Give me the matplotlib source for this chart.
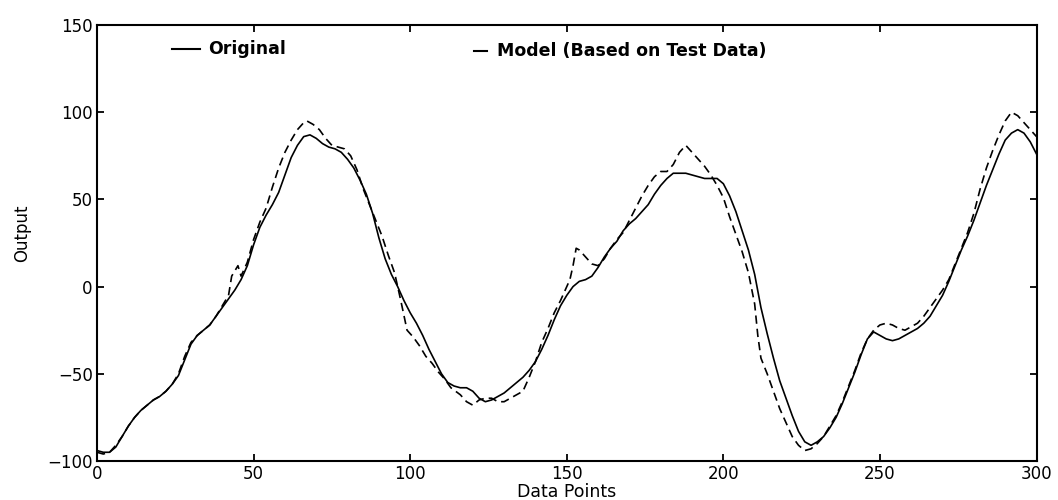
import matplotlib
matplotlib.use("Agg")
import matplotlib.pyplot as plt

# Original (solid) curve
orig_x = [0, 2, 4, 6, 8, 10, 12, 14, 16, 18, 20, 22, 24, 26, 28, 30, 32, 34, 36, 38,
          40, 42, 44, 46, 48, 50, 52, 54, 56, 58, 60, 62, 64, 66, 68, 70, 72, 74, 76, 78,
          80, 82, 84, 86, 88, 90, 92, 94, 96, 98, 100, 102, 104, 106, 108, 110, 112, 114,
          116, 118, 120, 122, 124, 126, 128, 130, 132, 134, 136, 138, 140, 142, 144, 146,
          148, 150, 152, 154, 156, 158, 160, 162, 164, 166, 168, 170, 172, 174, 176, 178,
          180, 182, 184, 186, 188, 190, 192, 194, 196, 198, 200, 202, 204, 206, 208, 210,
          212, 214, 216, 218, 220, 222, 224, 226, 228, 230, 232, 234, 236, 238, 240, 242,
          244, 246, 248, 250, 252, 254, 256, 258, 260, 262, 264, 266, 268, 270, 272, 274,
          276, 278, 280, 282, 284, 286, 288, 290, 292, 294, 296, 298, 300]
orig_y = [-94, -95, -95, -92, -86, -80, -75, -71, -68, -65, -63, -60, -56, -51, -42, -33, -28, -25, -22, -17,
          -12, -7, -2, 4, 12, 24, 34, 41, 47, 54, 64, 74, 81, 86, 87, 85, 82, 80, 79, 77,
          73, 68, 61, 53, 42, 28, 16, 7, 0, -8, -15, -21, -28, -36, -43, -50, -55, -57,
          -58, -58, -60, -64, -66, -65, -63, -61, -58, -55, -52, -48, -43, -36, -28, -19,
          -11, -5, 0, 3, 4, 6, 11, 17, 22, 26, 32, 36, 39, 43, 47, 53,
          58, 62, 65, 65, 65, 64, 63, 62, 62, 62, 59, 52, 43, 32, 21, 7,
          -12, -27, -41, -54, -64, -74, -83, -89, -91, -89, -86, -81, -75, -67, -58, -49,
          -39, -30, -26, -28, -30, -31, -30, -28, -26, -24, -21, -17, -11, -5, 3, 12,
          21, 29, 38, 48, 58, 67, 76, 84, 88, 90, 88, 83, 76]

# Model (dashed) curve
model_x = [0, 2, 4, 6, 8, 10, 12, 14, 16, 18, 20, 22, 24, 26, 28, 30, 32, 34, 36, 38,
           40, 42, 43, 45, 46, 48, 50, 52, 54, 56, 58, 60, 62, 64, 66, 67, 69, 71, 73, 75,
           77, 79, 81, 83, 85, 87, 89, 91, 93, 95, 97, 99, 101, 103, 105, 107, 109, 111,
           113, 116, 118, 120, 122, 124, 126, 128, 130, 132, 134, 136, 138, 140, 142, 144,
           146, 148, 150, 151, 152, 153, 154, 156, 158, 160, 162, 164, 166, 168, 170, 172,
           174, 176, 178, 180, 182, 184, 186, 188, 190, 192, 194, 196, 198, 200, 202, 204,
           206, 208, 210, 211, 212, 214, 216, 218, 220, 222, 224, 226, 228, 230, 232, 234,
           236, 238, 240, 242, 244, 246, 248, 250, 252, 254, 256, 258, 260, 262, 264, 266,
           268, 270, 272, 274, 276, 278, 280, 282, 284, 286, 288, 290, 292, 294, 296, 298, 300]
model_y = [-95, -96, -95, -91, -86, -80, -75, -71, -68, -65, -63, -60, -56, -50, -40, -32, -28, -25, -22, -17,
           -11, -5, 6, 12, 6, 14, 27, 37, 45, 57, 68, 77, 84, 90, 94, 95, 93, 90, 85, 81,
           80, 79, 75, 67, 56, 47, 38, 29, 18, 8, -8, -25, -29, -34, -40, -44, -49, -53,
           -58, -62, -66, -68, -65, -64, -64, -66, -66, -64, -62, -60, -52, -43, -32, -24,
           -15, -8, 0, 4, 12, 22, 21, 17, 13, 12, 16, 22, 27, 31, 38, 45,
           52, 58, 63, 66, 66, 70, 77, 81, 77, 73, 69, 64, 58, 51, 40, 30,
           20, 8, -10, -28, -41, -50, -60, -70, -78, -86, -91, -94, -93, -90, -86, -80,
           -74, -66, -57, -48, -38, -30, -25, -22, -21, -22, -24, -25, -23, -21, -17, -12,
           -7, -2, 4, 13, 22, 31, 42, 56, 68, 78, 87, 95, 100, 98, 94, 90, 86]

x_ticks = [0, 50, 100, 150, 200, 250, 300]
y_ticks = [-100, -50, 0, 50, 100, 150]

fig = plt.figure(figsize=(10.58, 5.0), dpi=100)
fig.patch.set_facecolor('white')
ax = fig.add_axes([0.0917, 0.078, 0.888, 0.872])

ax.plot(orig_x, orig_y, color='black', linewidth=1.2)
ax.plot(model_x, model_y, color='black', linewidth=1.2, linestyle=(0, (5, 3)))

ax.set_xlim(0, 300)
ax.set_ylim(-100, 150)
ax.set_xticks(x_ticks)
ax.set_yticks(y_ticks)

for spine in ax.spines.values():
    spine.set_linewidth(1.5)

ax.tick_params(direction='in', length=5, width=1.3, top=True, right=True,
               labelsize=12, pad=3)

ax.set_xlabel('Data Points', fontsize=12.5, labelpad=0)
fig.text(22 / 1058, 1 - 233 / 500, 'Output', rotation=90, ha='center', va='center',
         fontsize=12, family=['Liberation Sans Narrow', 'DejaVu Sans'])

# hand-drawn style legend inside the axes
ax.plot([24, 33], [136, 136], color='black', linewidth=1.5)
ax.text(35.5, 136, 'Original', fontsize=12.5, fontweight='bold', va='center', ha='left')
ax.plot([120.5, 124.4], [135, 135], color='black', linewidth=1.5)
ax.text(127.6, 135, 'Model (Based on Test Data)', fontsize=12.5, fontweight='bold',
        va='center', ha='left')

fig.savefig('out.png', dpi=100, facecolor='white')
